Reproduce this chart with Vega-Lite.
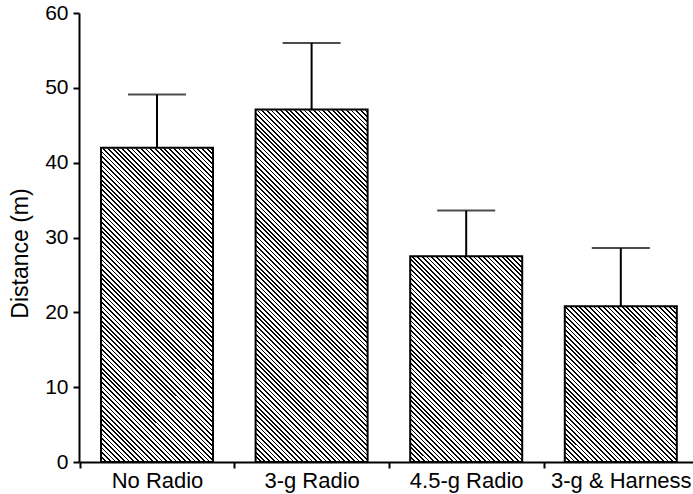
{
"$schema": "https://vega.github.io/schema/vega-lite/v6.json",
"width": 614, "height": 449,
"autosize": {"type": "none"},
"padding": {"left": 79, "top": 13, "right": 0, "bottom": 32},
"background": "white",
"config": {"view": {"stroke": null}, "font": "Liberation Sans"},
"data": {"values": [
 {"group": "No Radio", "dist": 42.0, "upper": 49.1},
 {"group": "3-g Radio", "dist": 47.1, "upper": 56.0},
 {"group": "4.5-g Radio", "dist": 27.5, "upper": 33.6},
 {"group": "3-g & Harness", "dist": 20.8, "upper": 28.6}
]},
"encoding": {
 "x": {"field": "group", "type": "nominal", "sort": null,
  "scale": {"paddingInner": 0.2755, "paddingOuter": 0.1235, "align": 0.576},
  "axis": {"title": null, "labelAngle": 0, "labelFont": "Liberation Sans", "labelFontSize": 22, "labelColor": "black", "labelPadding": 2, "bandPosition": 0, "tickOffset": -21.3, "labelOffset": 21.3, "ticks": true, "tickSize": 6, "tickWidth": 2, "tickColor": "black", "tickOpacity": 1, "domainColor": "black", "domainWidth": 2, "grid": false, "zindex": 1}}
},
"layer": [
 {"mark": {"type": "bar", "stroke": null, "fill": {"gradient": "linear", "x1": 0, "y1": 1, "x2": 0.4736, "y2": -0.5034, "stops": [
{"offset":0,"color":"#000"},{"offset":0.003,"color":"#000"},{"offset":0.003,"color":"#fff"},{"offset":0.008,"color":"#fff"},
{"offset":0.008,"color":"#000"},{"offset":0.011,"color":"#000"},{"offset":0.011,"color":"#fff"},{"offset":0.016,"color":"#fff"},
{"offset":0.016,"color":"#000"},{"offset":0.019,"color":"#000"},{"offset":0.019,"color":"#fff"},{"offset":0.024,"color":"#fff"},
{"offset":0.024,"color":"#000"},{"offset":0.027,"color":"#000"},{"offset":0.027,"color":"#fff"},{"offset":0.032,"color":"#fff"},
{"offset":0.032,"color":"#000"},{"offset":0.035,"color":"#000"},{"offset":0.035,"color":"#fff"},{"offset":0.04,"color":"#fff"},
{"offset":0.04,"color":"#000"},{"offset":0.043,"color":"#000"},{"offset":0.043,"color":"#fff"},{"offset":0.048,"color":"#fff"},
{"offset":0.048,"color":"#000"},{"offset":0.051,"color":"#000"},{"offset":0.051,"color":"#fff"},{"offset":0.056,"color":"#fff"},
{"offset":0.056,"color":"#000"},{"offset":0.059,"color":"#000"},{"offset":0.059,"color":"#fff"},{"offset":0.064,"color":"#fff"},
{"offset":0.064,"color":"#000"},{"offset":0.067,"color":"#000"},{"offset":0.067,"color":"#fff"},{"offset":0.072,"color":"#fff"},
{"offset":0.072,"color":"#000"},{"offset":0.075,"color":"#000"},{"offset":0.075,"color":"#fff"},{"offset":0.08,"color":"#fff"},
{"offset":0.08,"color":"#000"},{"offset":0.083,"color":"#000"},{"offset":0.083,"color":"#fff"},{"offset":0.088,"color":"#fff"},
{"offset":0.088,"color":"#000"},{"offset":0.091,"color":"#000"},{"offset":0.091,"color":"#fff"},{"offset":0.096,"color":"#fff"},
{"offset":0.096,"color":"#000"},{"offset":0.099,"color":"#000"},{"offset":0.099,"color":"#fff"},{"offset":0.104,"color":"#fff"},
{"offset":0.104,"color":"#000"},{"offset":0.107,"color":"#000"},{"offset":0.107,"color":"#fff"},{"offset":0.112,"color":"#fff"},
{"offset":0.112,"color":"#000"},{"offset":0.115,"color":"#000"},{"offset":0.115,"color":"#fff"},{"offset":0.12,"color":"#fff"},
{"offset":0.12,"color":"#000"},{"offset":0.123,"color":"#000"},{"offset":0.123,"color":"#fff"},{"offset":0.128,"color":"#fff"},
{"offset":0.128,"color":"#000"},{"offset":0.131,"color":"#000"},{"offset":0.131,"color":"#fff"},{"offset":0.136,"color":"#fff"},
{"offset":0.136,"color":"#000"},{"offset":0.139,"color":"#000"},{"offset":0.139,"color":"#fff"},{"offset":0.144,"color":"#fff"},
{"offset":0.144,"color":"#000"},{"offset":0.147,"color":"#000"},{"offset":0.147,"color":"#fff"},{"offset":0.152,"color":"#fff"},
{"offset":0.152,"color":"#000"},{"offset":0.155,"color":"#000"},{"offset":0.155,"color":"#fff"},{"offset":0.16,"color":"#fff"},
{"offset":0.16,"color":"#000"},{"offset":0.163,"color":"#000"},{"offset":0.163,"color":"#fff"},{"offset":0.168,"color":"#fff"},
{"offset":0.168,"color":"#000"},{"offset":0.171,"color":"#000"},{"offset":0.171,"color":"#fff"},{"offset":0.176,"color":"#fff"},
{"offset":0.176,"color":"#000"},{"offset":0.179,"color":"#000"},{"offset":0.179,"color":"#fff"},{"offset":0.184,"color":"#fff"},
{"offset":0.184,"color":"#000"},{"offset":0.187,"color":"#000"},{"offset":0.187,"color":"#fff"},{"offset":0.192,"color":"#fff"},
{"offset":0.192,"color":"#000"},{"offset":0.195,"color":"#000"},{"offset":0.195,"color":"#fff"},{"offset":0.2,"color":"#fff"},
{"offset":0.2,"color":"#000"},{"offset":0.203,"color":"#000"},{"offset":0.203,"color":"#fff"},{"offset":0.208,"color":"#fff"},
{"offset":0.208,"color":"#000"},{"offset":0.211,"color":"#000"},{"offset":0.211,"color":"#fff"},{"offset":0.216,"color":"#fff"},
{"offset":0.216,"color":"#000"},{"offset":0.219,"color":"#000"},{"offset":0.219,"color":"#fff"},{"offset":0.224,"color":"#fff"},
{"offset":0.224,"color":"#000"},{"offset":0.227,"color":"#000"},{"offset":0.227,"color":"#fff"},{"offset":0.232,"color":"#fff"},
{"offset":0.232,"color":"#000"},{"offset":0.235,"color":"#000"},{"offset":0.235,"color":"#fff"},{"offset":0.24,"color":"#fff"},
{"offset":0.24,"color":"#000"},{"offset":0.243,"color":"#000"},{"offset":0.243,"color":"#fff"},{"offset":0.248,"color":"#fff"},
{"offset":0.248,"color":"#000"},{"offset":0.251,"color":"#000"},{"offset":0.251,"color":"#fff"},{"offset":0.256,"color":"#fff"},
{"offset":0.256,"color":"#000"},{"offset":0.259,"color":"#000"},{"offset":0.259,"color":"#fff"},{"offset":0.264,"color":"#fff"},
{"offset":0.264,"color":"#000"},{"offset":0.267,"color":"#000"},{"offset":0.267,"color":"#fff"},{"offset":0.272,"color":"#fff"},
{"offset":0.272,"color":"#000"},{"offset":0.275,"color":"#000"},{"offset":0.275,"color":"#fff"},{"offset":0.28,"color":"#fff"},
{"offset":0.28,"color":"#000"},{"offset":0.283,"color":"#000"},{"offset":0.283,"color":"#fff"},{"offset":0.288,"color":"#fff"},
{"offset":0.288,"color":"#000"},{"offset":0.291,"color":"#000"},{"offset":0.291,"color":"#fff"},{"offset":0.296,"color":"#fff"},
{"offset":0.296,"color":"#000"},{"offset":0.299,"color":"#000"},{"offset":0.299,"color":"#fff"},{"offset":0.304,"color":"#fff"},
{"offset":0.304,"color":"#000"},{"offset":0.307,"color":"#000"},{"offset":0.307,"color":"#fff"},{"offset":0.312,"color":"#fff"},
{"offset":0.312,"color":"#000"},{"offset":0.315,"color":"#000"},{"offset":0.315,"color":"#fff"},{"offset":0.32,"color":"#fff"},
{"offset":0.32,"color":"#000"},{"offset":0.323,"color":"#000"},{"offset":0.323,"color":"#fff"},{"offset":0.328,"color":"#fff"},
{"offset":0.328,"color":"#000"},{"offset":0.331,"color":"#000"},{"offset":0.331,"color":"#fff"},{"offset":0.336,"color":"#fff"},
{"offset":0.336,"color":"#000"},{"offset":0.339,"color":"#000"},{"offset":0.339,"color":"#fff"},{"offset":0.344,"color":"#fff"},
{"offset":0.344,"color":"#000"},{"offset":0.347,"color":"#000"},{"offset":0.347,"color":"#fff"},{"offset":0.352,"color":"#fff"},
{"offset":0.352,"color":"#000"},{"offset":0.355,"color":"#000"},{"offset":0.355,"color":"#fff"},{"offset":0.36,"color":"#fff"},
{"offset":0.36,"color":"#000"},{"offset":0.363,"color":"#000"},{"offset":0.363,"color":"#fff"},{"offset":0.368,"color":"#fff"},
{"offset":0.368,"color":"#000"},{"offset":0.371,"color":"#000"},{"offset":0.371,"color":"#fff"},{"offset":0.376,"color":"#fff"},
{"offset":0.376,"color":"#000"},{"offset":0.379,"color":"#000"},{"offset":0.379,"color":"#fff"},{"offset":0.384,"color":"#fff"},
{"offset":0.384,"color":"#000"},{"offset":0.387,"color":"#000"},{"offset":0.387,"color":"#fff"},{"offset":0.392,"color":"#fff"},
{"offset":0.392,"color":"#000"},{"offset":0.395,"color":"#000"},{"offset":0.395,"color":"#fff"},{"offset":0.4,"color":"#fff"},
{"offset":0.4,"color":"#000"},{"offset":0.403,"color":"#000"},{"offset":0.403,"color":"#fff"},{"offset":0.408,"color":"#fff"},
{"offset":0.408,"color":"#000"},{"offset":0.411,"color":"#000"},{"offset":0.411,"color":"#fff"},{"offset":0.416,"color":"#fff"},
{"offset":0.416,"color":"#000"},{"offset":0.419,"color":"#000"},{"offset":0.419,"color":"#fff"},{"offset":0.424,"color":"#fff"},
{"offset":0.424,"color":"#000"},{"offset":0.427,"color":"#000"},{"offset":0.427,"color":"#fff"},{"offset":0.432,"color":"#fff"},
{"offset":0.432,"color":"#000"},{"offset":0.435,"color":"#000"},{"offset":0.435,"color":"#fff"},{"offset":0.44,"color":"#fff"},
{"offset":0.44,"color":"#000"},{"offset":0.443,"color":"#000"},{"offset":0.443,"color":"#fff"},{"offset":0.448,"color":"#fff"},
{"offset":0.448,"color":"#000"},{"offset":0.451,"color":"#000"},{"offset":0.451,"color":"#fff"},{"offset":0.456,"color":"#fff"},
{"offset":0.456,"color":"#000"},{"offset":0.459,"color":"#000"},{"offset":0.459,"color":"#fff"},{"offset":0.464,"color":"#fff"},
{"offset":0.464,"color":"#000"},{"offset":0.467,"color":"#000"},{"offset":0.467,"color":"#fff"},{"offset":0.472,"color":"#fff"},
{"offset":0.472,"color":"#000"},{"offset":0.475,"color":"#000"},{"offset":0.475,"color":"#fff"},{"offset":0.48,"color":"#fff"},
{"offset":0.48,"color":"#000"},{"offset":0.483,"color":"#000"},{"offset":0.483,"color":"#fff"},{"offset":0.488,"color":"#fff"},
{"offset":0.488,"color":"#000"},{"offset":0.491,"color":"#000"},{"offset":0.491,"color":"#fff"},{"offset":0.496,"color":"#fff"},
{"offset":0.496,"color":"#000"},{"offset":0.499,"color":"#000"},{"offset":0.499,"color":"#fff"},{"offset":0.504,"color":"#fff"},
{"offset":0.504,"color":"#000"},{"offset":0.507,"color":"#000"},{"offset":0.507,"color":"#fff"},{"offset":0.512,"color":"#fff"},
{"offset":0.512,"color":"#000"},{"offset":0.515,"color":"#000"},{"offset":0.515,"color":"#fff"},{"offset":0.52,"color":"#fff"},
{"offset":0.52,"color":"#000"},{"offset":0.523,"color":"#000"},{"offset":0.523,"color":"#fff"},{"offset":0.528,"color":"#fff"},
{"offset":0.528,"color":"#000"},{"offset":0.531,"color":"#000"},{"offset":0.531,"color":"#fff"},{"offset":0.536,"color":"#fff"},
{"offset":0.536,"color":"#000"},{"offset":0.539,"color":"#000"},{"offset":0.539,"color":"#fff"},{"offset":0.544,"color":"#fff"},
{"offset":0.544,"color":"#000"},{"offset":0.547,"color":"#000"},{"offset":0.547,"color":"#fff"},{"offset":0.552,"color":"#fff"},
{"offset":0.552,"color":"#000"},{"offset":0.555,"color":"#000"},{"offset":0.555,"color":"#fff"},{"offset":0.56,"color":"#fff"},
{"offset":0.56,"color":"#000"},{"offset":0.563,"color":"#000"},{"offset":0.563,"color":"#fff"},{"offset":0.568,"color":"#fff"},
{"offset":0.568,"color":"#000"},{"offset":0.571,"color":"#000"},{"offset":0.571,"color":"#fff"},{"offset":0.576,"color":"#fff"},
{"offset":0.576,"color":"#000"},{"offset":0.579,"color":"#000"},{"offset":0.579,"color":"#fff"},{"offset":0.584,"color":"#fff"},
{"offset":0.584,"color":"#000"},{"offset":0.587,"color":"#000"},{"offset":0.587,"color":"#fff"},{"offset":0.592,"color":"#fff"},
{"offset":0.592,"color":"#000"},{"offset":0.595,"color":"#000"},{"offset":0.595,"color":"#fff"},{"offset":0.6,"color":"#fff"},
{"offset":0.6,"color":"#000"},{"offset":0.603,"color":"#000"},{"offset":0.603,"color":"#fff"},{"offset":0.608,"color":"#fff"},
{"offset":0.608,"color":"#000"},{"offset":0.611,"color":"#000"},{"offset":0.611,"color":"#fff"},{"offset":0.616,"color":"#fff"},
{"offset":0.616,"color":"#000"},{"offset":0.619,"color":"#000"},{"offset":0.619,"color":"#fff"},{"offset":0.624,"color":"#fff"},
{"offset":0.624,"color":"#000"},{"offset":0.627,"color":"#000"},{"offset":0.627,"color":"#fff"},{"offset":0.632,"color":"#fff"},
{"offset":0.632,"color":"#000"},{"offset":0.635,"color":"#000"},{"offset":0.635,"color":"#fff"},{"offset":0.64,"color":"#fff"},
{"offset":0.64,"color":"#000"},{"offset":0.643,"color":"#000"},{"offset":0.643,"color":"#fff"},{"offset":0.648,"color":"#fff"},
{"offset":0.648,"color":"#000"},{"offset":0.651,"color":"#000"},{"offset":0.651,"color":"#fff"},{"offset":0.656,"color":"#fff"},
{"offset":0.656,"color":"#000"},{"offset":0.659,"color":"#000"},{"offset":0.659,"color":"#fff"},{"offset":0.664,"color":"#fff"},
{"offset":0.664,"color":"#000"},{"offset":0.667,"color":"#000"},{"offset":0.667,"color":"#fff"},{"offset":0.672,"color":"#fff"},
{"offset":0.672,"color":"#000"},{"offset":0.675,"color":"#000"},{"offset":0.675,"color":"#fff"},{"offset":0.68,"color":"#fff"},
{"offset":0.68,"color":"#000"},{"offset":0.683,"color":"#000"},{"offset":0.683,"color":"#fff"},{"offset":0.688,"color":"#fff"},
{"offset":0.688,"color":"#000"},{"offset":0.691,"color":"#000"},{"offset":0.691,"color":"#fff"},{"offset":0.696,"color":"#fff"},
{"offset":0.696,"color":"#000"},{"offset":0.699,"color":"#000"},{"offset":0.699,"color":"#fff"},{"offset":0.704,"color":"#fff"},
{"offset":0.704,"color":"#000"},{"offset":0.707,"color":"#000"},{"offset":0.707,"color":"#fff"},{"offset":0.712,"color":"#fff"},
{"offset":0.712,"color":"#000"},{"offset":0.715,"color":"#000"},{"offset":0.715,"color":"#fff"},{"offset":0.72,"color":"#fff"},
{"offset":0.72,"color":"#000"},{"offset":0.723,"color":"#000"},{"offset":0.723,"color":"#fff"},{"offset":0.728,"color":"#fff"},
{"offset":0.728,"color":"#000"},{"offset":0.731,"color":"#000"},{"offset":0.731,"color":"#fff"},{"offset":0.736,"color":"#fff"},
{"offset":0.736,"color":"#000"},{"offset":0.739,"color":"#000"},{"offset":0.739,"color":"#fff"},{"offset":0.744,"color":"#fff"},
{"offset":0.744,"color":"#000"},{"offset":0.747,"color":"#000"},{"offset":0.747,"color":"#fff"},{"offset":0.752,"color":"#fff"},
{"offset":0.752,"color":"#000"},{"offset":0.755,"color":"#000"},{"offset":0.755,"color":"#fff"},{"offset":0.76,"color":"#fff"},
{"offset":0.76,"color":"#000"},{"offset":0.763,"color":"#000"},{"offset":0.763,"color":"#fff"},{"offset":0.768,"color":"#fff"},
{"offset":0.768,"color":"#000"},{"offset":0.771,"color":"#000"},{"offset":0.771,"color":"#fff"},{"offset":0.776,"color":"#fff"},
{"offset":0.776,"color":"#000"},{"offset":0.779,"color":"#000"},{"offset":0.779,"color":"#fff"},{"offset":0.784,"color":"#fff"},
{"offset":0.784,"color":"#000"},{"offset":0.787,"color":"#000"},{"offset":0.787,"color":"#fff"},{"offset":0.792,"color":"#fff"},
{"offset":0.792,"color":"#000"},{"offset":0.795,"color":"#000"},{"offset":0.795,"color":"#fff"},{"offset":0.8,"color":"#fff"}
 ]}},
  "encoding": {"y": {"datum": 47.5, "type": "quantitative", "scale": {"domain": [0, 60], "nice": false},
   "axis": {"title": "Distance (m)", "values": [0, 5, 10, 15, 20, 25, 30, 35, 40, 45, 50, 55, 60],
    "labelExpr": "datum.value % 10 === 0 ? datum.label : ''",
    "tickSize": {"condition": {"test": "datum.value % 10 === 0", "value": 6}, "value": 3},
    "tickWidth": 2, "tickColor": "black", "domainColor": "black", "domainWidth": 2, "grid": false,
    "labelFont": "Liberation Sans", "labelFontSize": 21, "labelColor": "black", "labelPadding": 5,
    "titleFont": "Liberation Sans", "titleFontSize": 23, "titleFontWeight": "normal", "titleColor": "black",
    "titleX": -52, "titleY": 240, "titleAngle": 270, "titleBaseline": "alphabetic", "titleAlign": "center"}}}},
 {"mark": {"type": "bar", "fill": "white", "stroke": "white", "strokeWidth": 1.5},
  "encoding": {"y": {"field": "dist", "type": "quantitative"}, "y2": {"datum": 47.5}}},
 {"mark": {"type": "bar", "fill": null, "stroke": "black", "strokeWidth": 2},
  "encoding": {"y": {"field": "dist", "type": "quantitative"}}},
 {"mark": {"type": "rule", "color": "black", "strokeWidth": 2},
  "encoding": {"y": {"field": "dist", "type": "quantitative"}, "y2": {"field": "upper"}}},
 {"mark": {"type": "tick", "color": "black", "size": 58, "thickness": 2},
  "encoding": {"y": {"field": "upper", "type": "quantitative"}}}
]
}
